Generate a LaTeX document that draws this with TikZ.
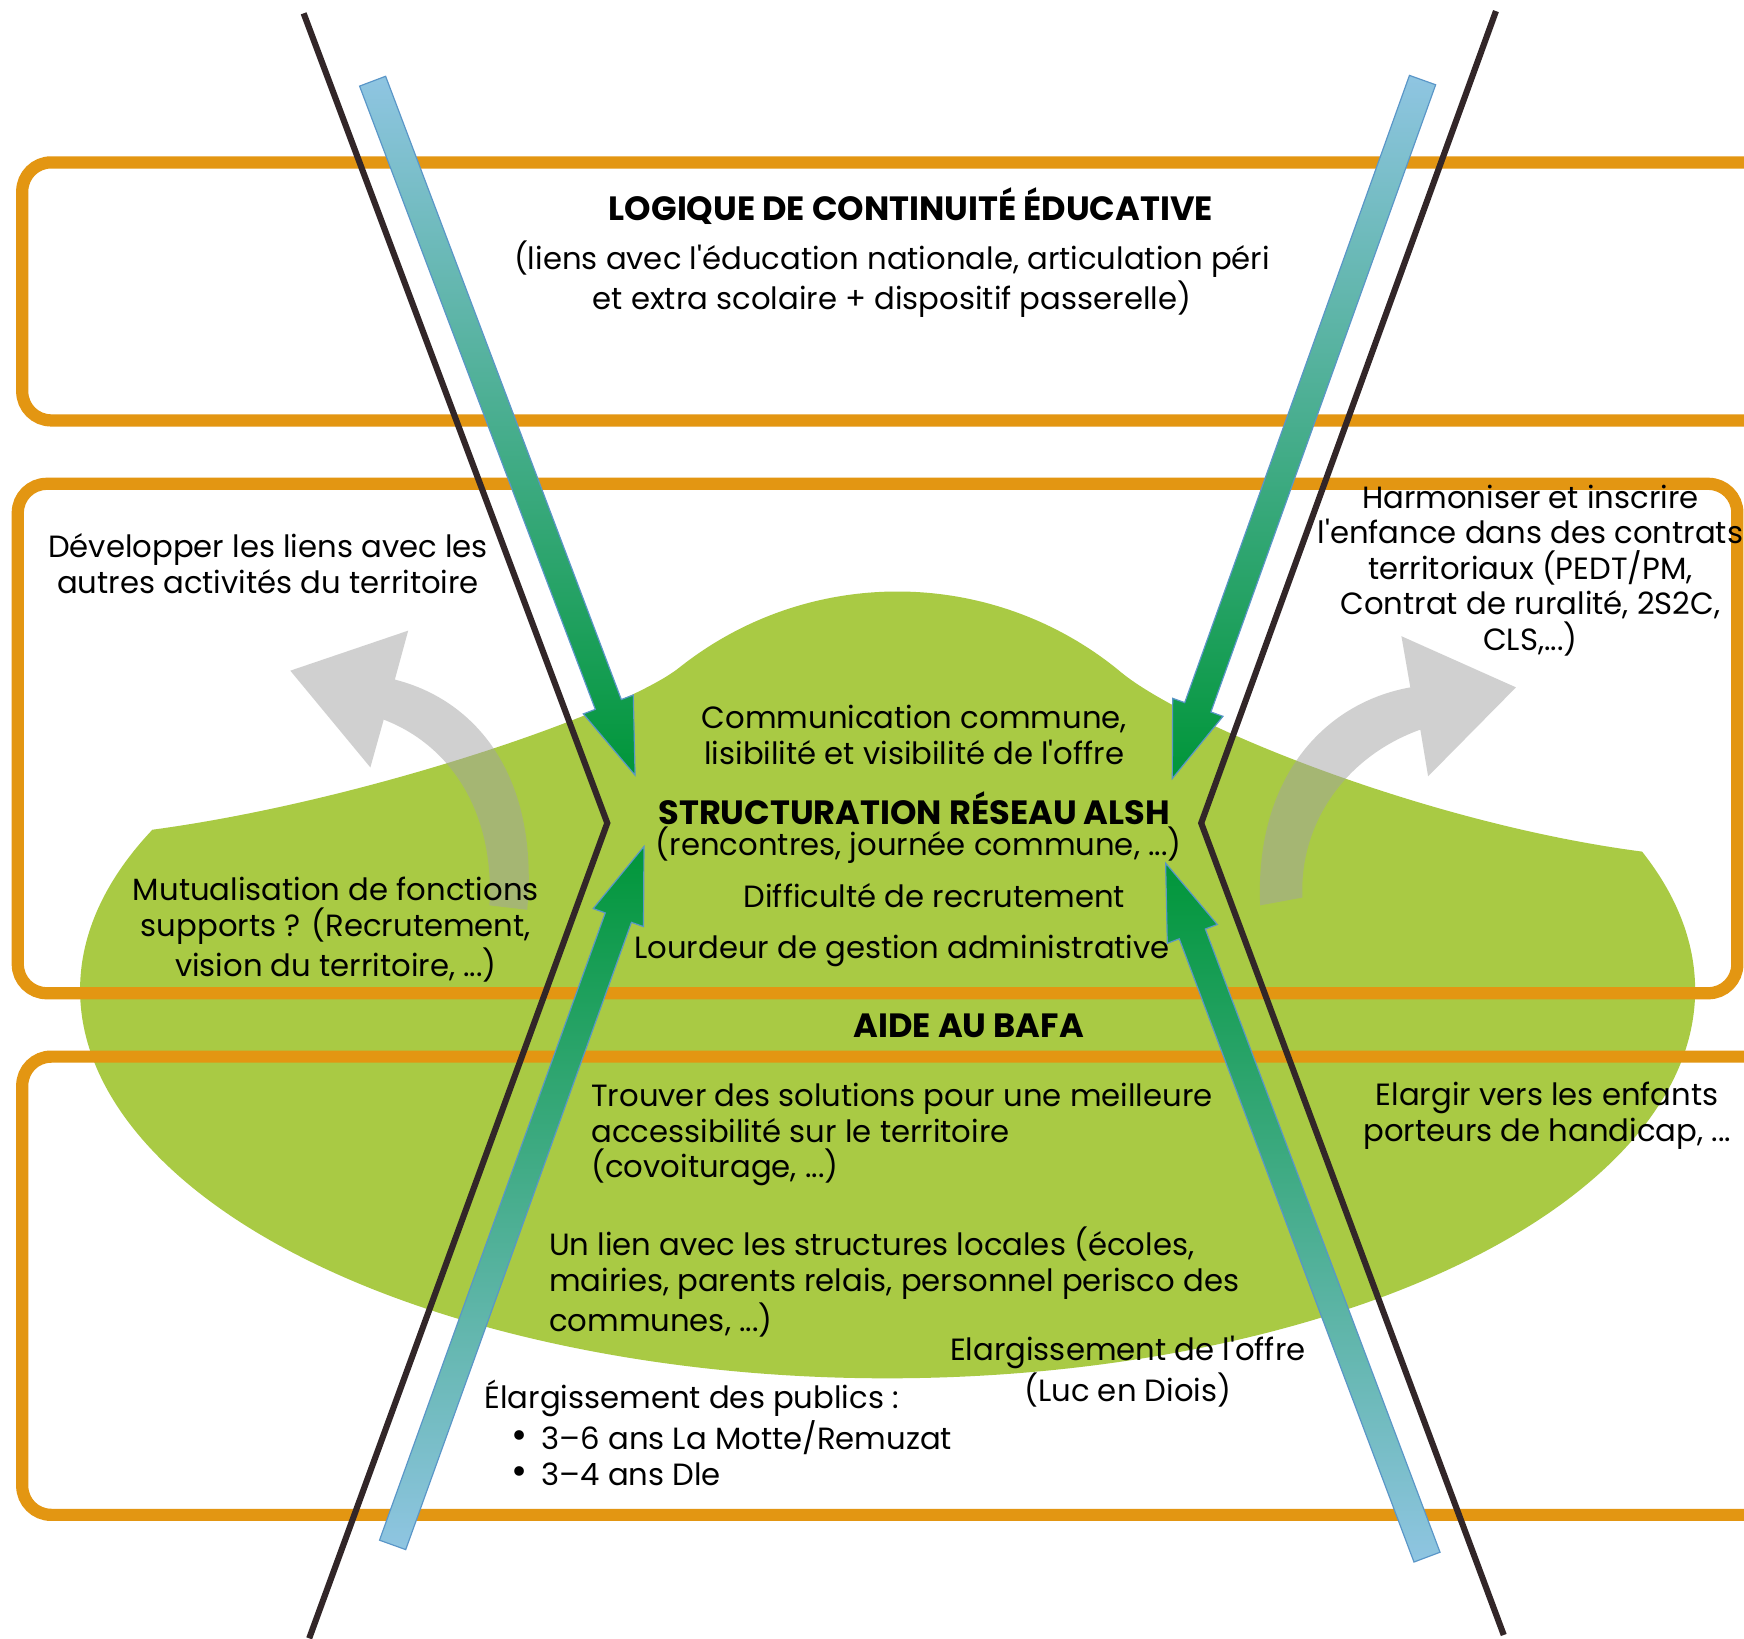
\documentclass[tikz,border=0pt]{standalone}
\usepackage{fontspec}
\setmainfont{Poppins}
\usetikzlibrary{calc}

\definecolor{blobgreen}{RGB}{169,202,68}
\definecolor{frameorange}{RGB}{227,150,18}
\definecolor{crossline}{RGB}{50,38,40}
\definecolor{arrowblue}{RGB}{143,197,226}
\definecolor{arrowteal}{RGB}{82,172,140}
\definecolor{arrowgreen}{RGB}{0,150,57}
\definecolor{arrowedge}{RGB}{90,150,200}
\definecolor{bendgray}{RGB}{163,163,163}

\newcommand\bigdot{\raisebox{0.2pt}{\fontsize{10}{9.1}\selectfont •}}

\tikzset{
  orangeframe/.style={draw=frameorange, line width=0.11cm, rounded corners=0.26cm},
  xline/.style={draw=crossline, line width=0.055cm},
  bentarrow/.style={fill=bendgray, fill opacity=0.5},
  flowarrow/.style={draw=arrowedge, line width=0.3pt},
  txt/.style={inner sep=0pt, align=center, font=\fontsize{7.85}{9.1}\selectfont},
  boldtxt/.style={txt, font=\fontsize{8.6}{9.1}\selectfont\bfseries},
}

\begin{document}
\begin{tikzpicture}[x=0.01cm, y=-0.01cm]
  \useasboundingbox (0,0) rectangle (1568,1473);
  \clip (0,0) rectangle (1568,1473);
  \fill[white] (0,0) rectangle (1568,1473);

  % green blob
  \fill[blobgreen] (137,746) arc[start angle=204.4, end angle=-20.9, x radius=726, y radius=349]
    .. controls (1280,740) and (1060,650) .. (1005,602)
    arc[start angle=-51, end angle=-128.6, radius=315]
    .. controls (560,640) and (330,720) .. (137,746) -- cycle;

  % grey bent arrows
  \fill[bentarrow] (355,611) .. controls (430,630) and (485,700) .. (474,818) -- (440,814)
    .. controls (445,730) and (405,670) .. (345,647) -- (333,690) -- (261,603) -- (367,567) -- cycle;
  \fill[bentarrow] (1268,618) .. controls (1190,632) and (1128,700) .. (1133,814) -- (1171,807)
    .. controls (1168,740) and (1210,680) .. (1277,656) -- (1284,698) -- (1363,618) -- (1260,572) -- cycle;

  % orange frames
  \draw[orangeframe] (20,146) rectangle (1610,378);
  \draw[orangeframe] (16,435) rectangle (1562,893);
  \draw[orangeframe] (20,950) rectangle (1610,1362);

  % crossing lines
  \draw[xline] (273,12) -- (546,740) -- (278,1473);
  \draw[xline] (1345,10) -- (1080,740) -- (1352,1470);

  % big arrows
  \coordinate (tailA) at (335,73);
  \coordinate (tipA) at (571,697);
  \coordinate (tailB) at (1279,72);
  \coordinate (tipB) at (1054,700);
  \coordinate (tailC) at (353,1389);
  \coordinate (tipC) at (579,761);
  \coordinate (tailD) at (1283,1400);
  \coordinate (tipD) at (1048,776);
  \foreach \t/\h/\ctop/\cbot in {tailA/tipA/arrowblue/arrowgreen, tailB/tipB/arrowblue/arrowgreen,
                                 tailC/tipC/arrowgreen/arrowblue, tailD/tipD/arrowgreen/arrowblue} {
    \coordinate (hb) at ($(\h)!0.68cm!(\t)$);
    \shadedraw[flowarrow, top color=\ctop, middle color=arrowteal, bottom color=\cbot]
      ($(\t)!0.125cm!90:(\h)$) -- ($(hb)!0.125cm!90:(\h)$) -- ($(hb)!0.24cm!90:(\h)$)
      -- (\h) -- ($(hb)!0.24cm!-90:(\h)$) -- ($(hb)!0.125cm!-90:(\h)$)
      -- ($(\t)!0.125cm!-90:(\h)$) -- cycle;
  }

  % texts
  \node[boldtxt] (logique) at (819,185) {LOGIQUE DE CONTINUITÉ ÉDUCATIVE};
  \node[txt] (liens) at (802,251) {(liens avec l\textquotesingle éducation nationale, articulation péri\\et extra scolaire + dispositif passerelle)};
  \node[txt] (developper) at (241,507) {Développer les liens avec les\\autres activités du territoire};
  \node[txt] (harmoniser) at (1376,513) {Harmoniser et inscrire\\l\textquotesingle enfance dans des contrats\\territoriaux (PEDT/PM,\\Contrat de ruralité, 2S2C,\\CLS,...)};
  \node[txt] (communication) at (822,661) {Communication commune,\\lisibilité et visibilité de l\textquotesingle offre};
  \node[boldtxt] (reseau) at (822,727) {STRUCTURATION RÉSEAU ALSH};
  \node[txt] (rencontres) at (826,760) {(rencontres, journée commune, ...)};
  \node[txt] (recrutement) at (840,805) {Difficulté de recrutement};
  \node[txt] (lourdeur) at (811,855) {Lourdeur de gestion administrative};
  \node[txt] (mutualisation) at (302,836) {Mutualisation de fonctions\\supports ? (Recrutement,\\vision du territoire, ...)};
  \node[boldtxt] (bafa) at (871,922) {AIDE AU BAFA};
  \node[txt, anchor=west, align=left] (trouver) at (531,1020) {Trouver des solutions pour une meilleure\\accessibilité sur le territoire\\(covoiturage, ...)};
  \node[txt, anchor=west, align=left] (lien) at (493,1153) {Un lien avec les structures locales (écoles,\\mairies, parents relais, personnel perisco des\\communes, ...)};
  \node[txt] (offre) at (1014,1233) {Elargissement de l\textquotesingle offre\\(Luc en Diois)};
  \node[txt, anchor=west, align=left] (publics) at (435,1288) {Élargissement des publics :\\
    \hspace*{6.8pt}\makebox[7.8pt][l]{\bigdot}3–6 ans La Motte/Remuzat\\
    \hspace*{6.8pt}\makebox[7.8pt][l]{\bigdot}3–4 ans Dle};
  \node[txt] (handicap) at (1391,1003) {Elargir vers les enfants\\porteurs de handicap, ...};
\end{tikzpicture}
\end{document}
